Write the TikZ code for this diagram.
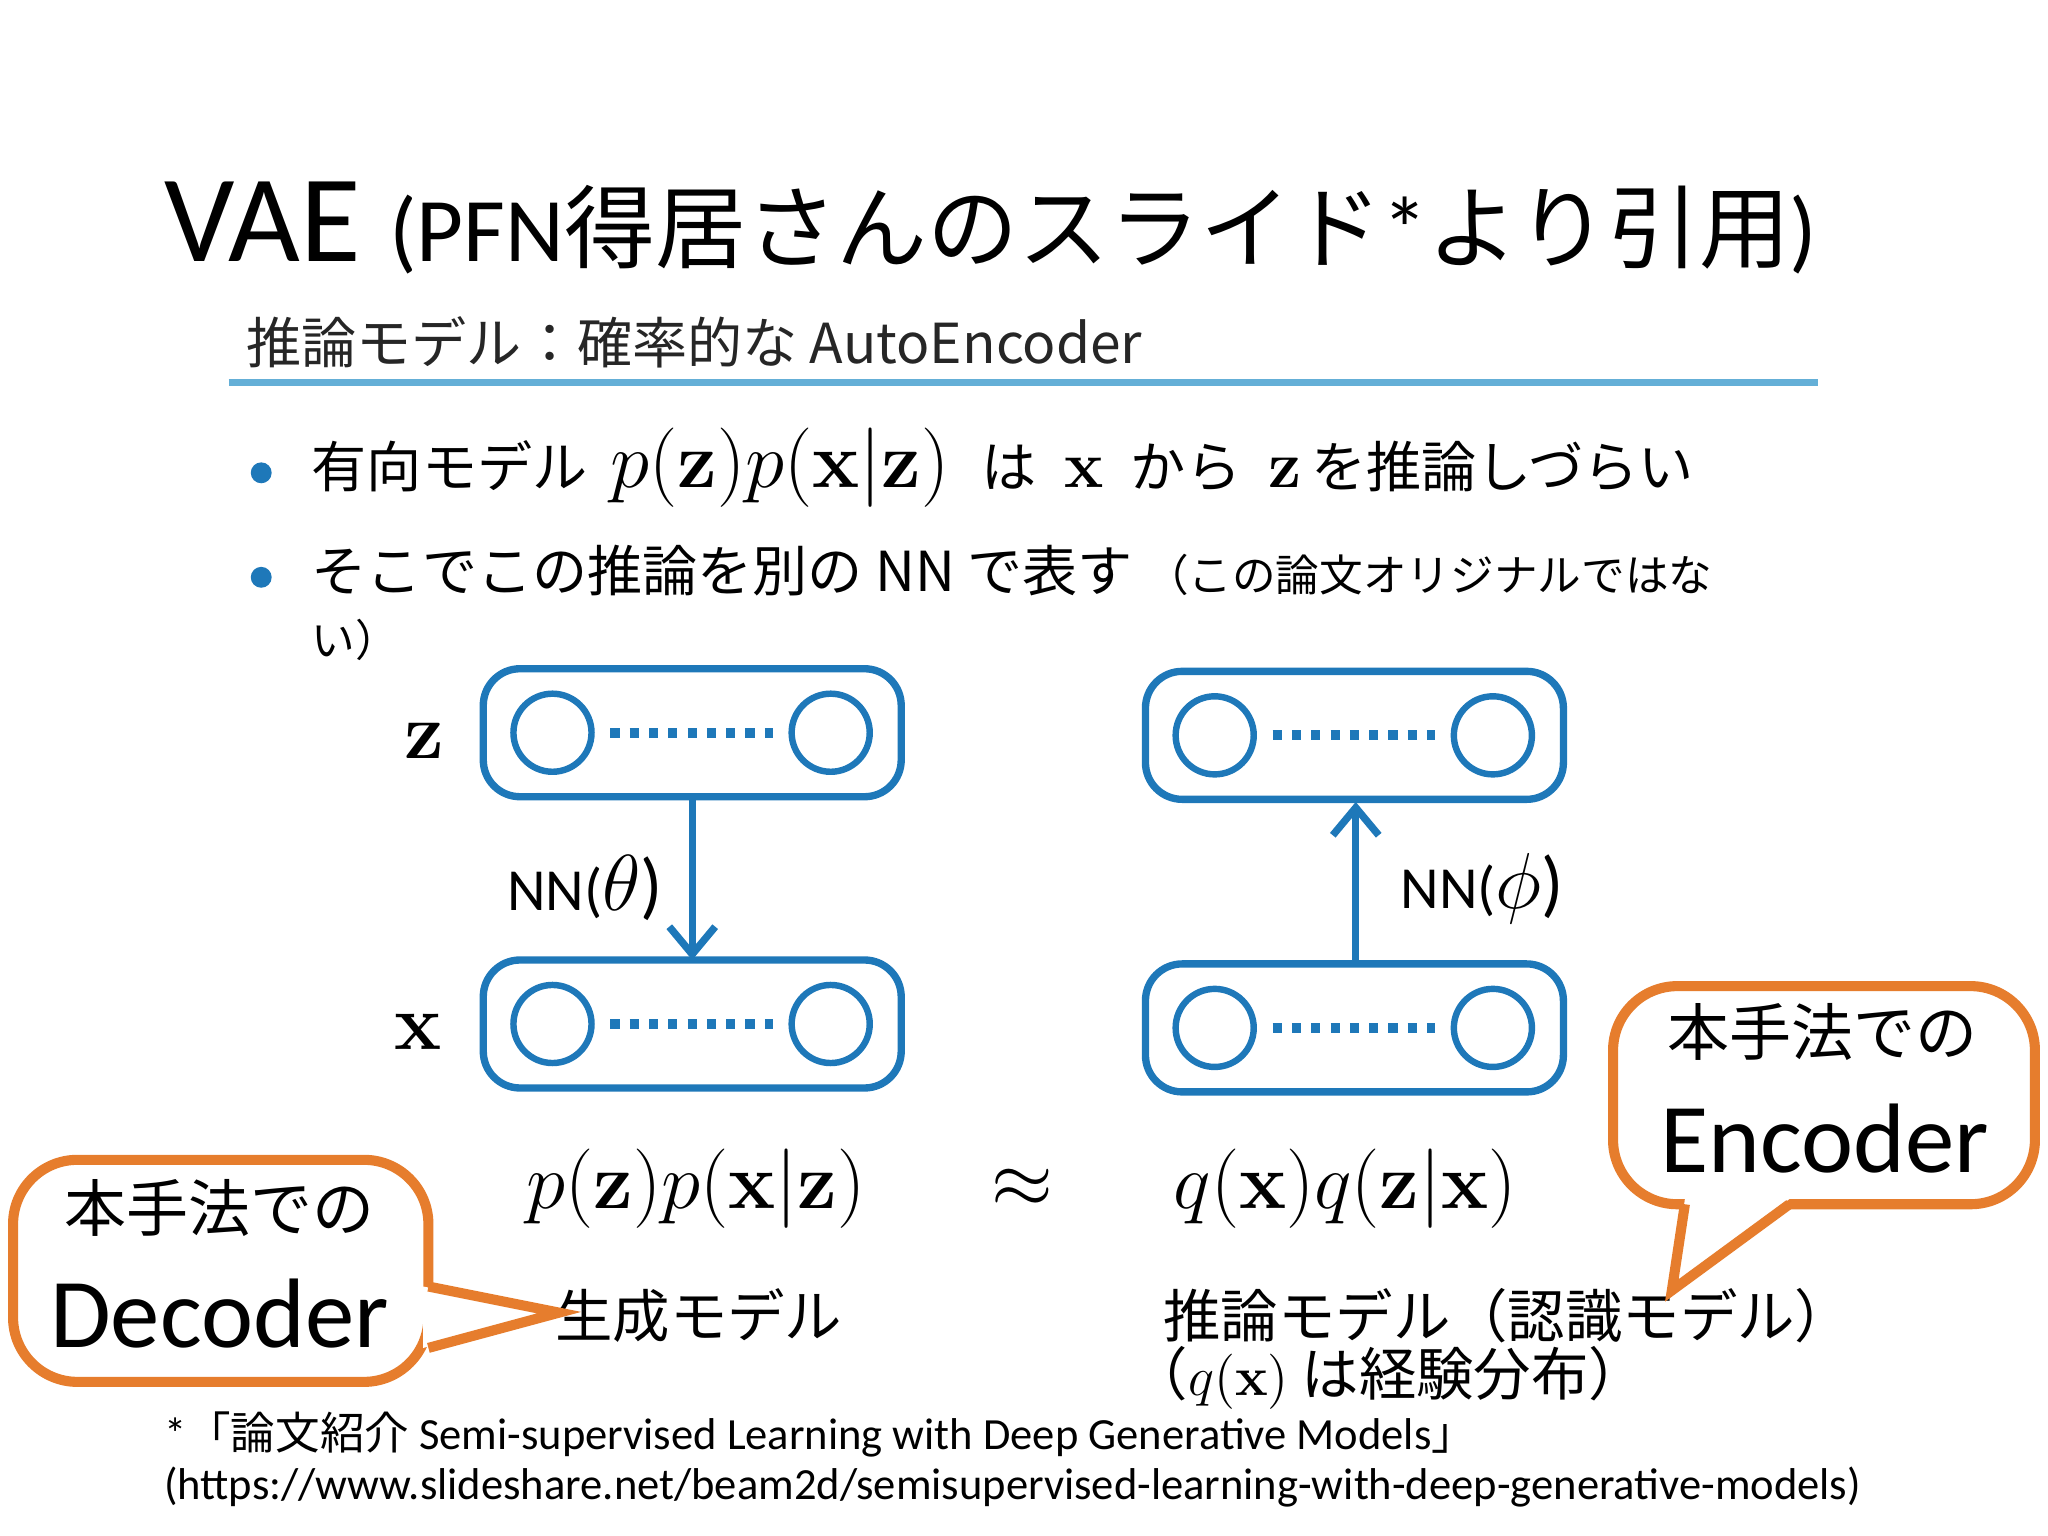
\documentclass[tikz,border=0pt]{standalone}
\usepackage[no-math]{fontspec}
\setmainfont{Carlito}
\newfontfamily\jp{Noto Sans CJK JP}
\usepackage{amsmath}
\usetikzlibrary{arrows.meta,calc}
\definecolor{nnblue}{RGB}{30,120,185}
\definecolor{lineblue}{RGB}{100,175,215}
\definecolor{callor}{RGB}{230,125,45}
\tikzset{
 layer/.style={draw=nnblue,line width=1.6pt,rounded corners=8pt},
 unit/.style={draw=nnblue,line width=1.4pt,circle,minimum size=17pt,inner sep=0pt},
 callbox/.style={draw=callor,line width=2.2pt,rounded corners=14pt,fill=white},
 dotline/.style={nnblue,line width=2.2pt,dash pattern=on 2pt off 2.2pt}
}
\newcommand{\bz}{\mathbf{z}}
\newcommand{\bx}{\mathbf{x}}
\begin{document}
\begin{tikzpicture}[x=0.01cm,y=-0.01cm]
\useasboundingbox (0,0) rectangle (1568,1176);
\node[anchor=base west,inner sep=0] (title) at (125,200) {\fontsize{27}{32}\selectfont VAE \fontsize{19.8}{22}\selectfont (PFN{\jp 得居さんのスライド}*{\jp より引用})};
\node[anchor=base west,inner sep=0] (sub) at (188,278) {\fontsize{12}{14}\selectfont\jp\color{black!85} 推論モデル：確率的な AutoEncoder};
\draw[lineblue,line width=1.5pt] (175,293) -- (1392,293);
\fill[nnblue] (200,362) circle (8);
\fill[nnblue] (200,442) circle (8);
\node[anchor=base west,inner sep=0] (b1) at (238,373) {\fontsize{12}{14}\selectfont\jp 有向モデル\hspace{5pt}\fontsize{17}{18}\selectfont$p(\bz)p(\bx|\bz)$\fontsize{12}{14}\selectfont\hspace{7pt}は\hspace{6pt}\fontsize{15}{16}\selectfont$\bx$\fontsize{12}{14}\selectfont\hspace{6pt}から\hspace{6pt}\fontsize{15}{16}\selectfont$\bz$\fontsize{12}{14}\selectfont\hspace{2pt}を推論しづらい};
\node[anchor=base west,inner sep=0] (b2) at (238,453) {\fontsize{12}{14}\selectfont\jp そこでこの推論を別の NN で表す \fontsize{9.5}{11}\selectfont（この論文オリジナルではな};
\node[anchor=base west,inner sep=0] (b3) at (238,503) {\fontsize{9.5}{11}\selectfont\jp い）};
% boxes
\draw[layer] (370,512) rectangle (690,610);
\draw[layer] (370,735) rectangle (690,833);
\draw[layer] (877,514) rectangle (1197,612);
\draw[layer] (877,738) rectangle (1197,836);
\foreach \n/\cx/\cy in {a/423/561,b/423/784,c/930/563,d/930/787}{
 \node[unit] (\n1) at (\cx,\cy) {};
 \node[unit] (\n2) at (\cx+213,\cy) {};
 \draw[dotline] ($(\n1.east)+(12,0)$) -- ($(\n2.west)+(-12,0)$);
}
\coordinate (lt) at (530,610); \coordinate (lb) at (530,735);
\coordinate (rt) at (1038,614); \coordinate (rb) at (1038,738);
\draw[nnblue,line width=1.6pt,-{Straight Barb[length=6pt,width=10pt]}] (lt) -- (lb);
\draw[nnblue,line width=1.6pt,-{Straight Barb[length=6pt,width=10pt]}] (rb) -- (rt);
\node (zl) at (325,567) {\fontsize{17}{18}\selectfont$\bz$};
\node (xl) at (320,790) {\fontsize{17}{18}\selectfont$\bx$};
\node (nnt) at (448,680) {\fontsize{13}{15}\selectfont NN(\fontsize{16}{18}\selectfont$\theta$)};
\node (nnp) at (1135,680) {\fontsize{13}{15}\selectfont NN(\fontsize{16}{18}\selectfont$\phi$)};
\node (pf) at (533,910) {\fontsize{19}{20}\selectfont$p(\bz)p(\bx|\bz)$};
\node (ap) at (783,910) {\fontsize{19}{20}\selectfont$\approx$};
\node (qf) at (1030,910) {\fontsize{19}{20}\selectfont$q(\bx)q(\bz|\bx)$};
\node (gen) at (535,1007) {\fontsize{12.5}{14}\selectfont\jp 生成モデル};
\node[anchor=west,inner sep=0] (inf) at (890,1007) {\fontsize{12.5}{14}\selectfont\jp 推論モデル（認識モデル）};
\node[anchor=west,inner sep=0] (emp) at (865,1055) {\fontsize{12.5}{14}\selectfont\jp （$q(\bx)$ は経験分布）};
% callouts
\draw[callbox] (10,888) rectangle (328,1058);
\fill[white] (324,985) -- (428,1005) -- (324,1032) -- cycle;
\draw[callor,line width=2.2pt,line join=miter] (328,985) -- (428,1005) -- (328,1032);
\node (c1a) at (168,925) {\fontsize{13.5}{16}\selectfont\jp 本手法での};
\node (c1b) at (168,1006) {\fontsize{21.5}{26}\selectfont Decoder};
\draw[callbox] (1235,755) rectangle (1558,922);
\fill[white] (1290,918) -- (1280,988) -- (1370,918) -- cycle;
\draw[callor,line width=2.2pt,line join=miter] (1290,922) -- (1280,988) -- (1370,922);
\node (c2a) at (1395,790) {\fontsize{13.5}{16}\selectfont\jp 本手法での};
\node (c2b) at (1397,872) {\fontsize{21.5}{26}\selectfont Encoder};
\node[anchor=base west,inner sep=0] (f1) at (125,1110) {\fontsize{9.7}{12}\selectfont *{\jp 「論文紹介} Semi-supervised Learning with Deep Generative Models{\jp 」}};
\node[anchor=base west,inner sep=0] (f2) at (125,1148) {\fontsize{9.7}{12}\selectfont (https://www.slideshare.net/beam2d/semisupervised-learning-with-deep-generative-models)};
\end{tikzpicture}
\end{document}
